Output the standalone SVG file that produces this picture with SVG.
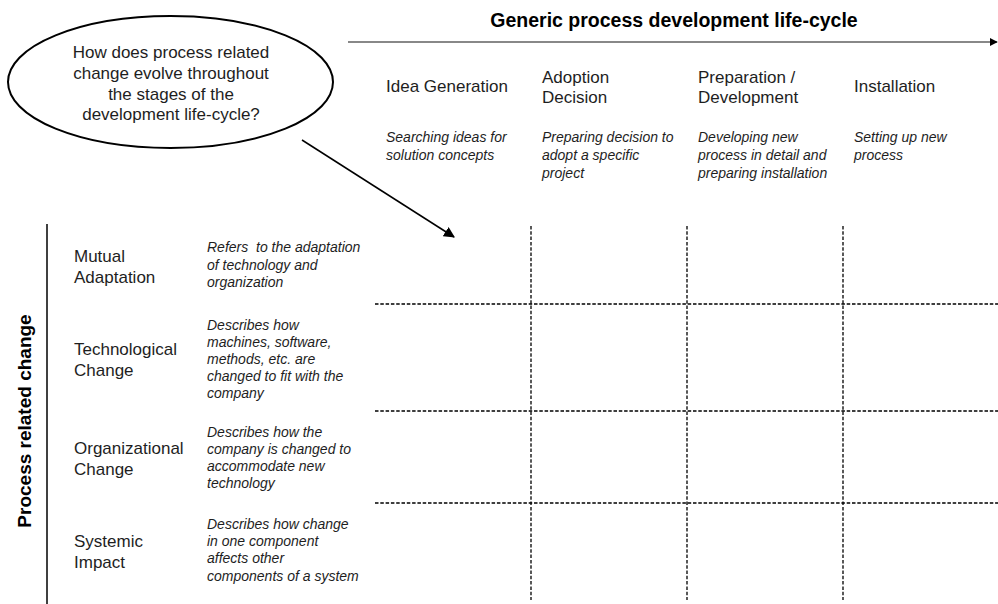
<svg xmlns="http://www.w3.org/2000/svg" width="998" height="604" viewBox="0 0 998 604">
<style>
.t{font-family:"Liberation Sans",Arial,sans-serif;fill:#1e1e1e}
.h{font-size:17px}
.d{font-size:14px;font-style:italic}
.b{font-weight:bold;fill:#000}
.g{stroke:#000;stroke-width:1.3;stroke-dasharray:3.5 1.8;fill:none}
</style>
<defs>
<marker id="ah" viewBox="0 0 10 10" refX="9" refY="5" markerWidth="8" markerHeight="8" markerUnits="userSpaceOnUse" orient="auto"><path d="M0,0 L10,5 L0,10 z" fill="#000"/></marker>
<marker id="ah2" viewBox="0 0 10 10" refX="9" refY="5" markerWidth="11" markerHeight="11" markerUnits="userSpaceOnUse" orient="auto"><path d="M0,0 L10,5 L0,10 z" fill="#000"/></marker>
</defs>

<g id="title">
<text class="t b" x="674" y="27" font-size="19.5" text-anchor="middle">Generic process development life-cycle</text>
</g>

<g id="question">
<ellipse cx="170.5" cy="82" rx="162.5" ry="66" fill="#fff" stroke="#000" stroke-width="2"/>
<text class="t h" text-anchor="middle" x="171" y="58">How does process related</text>
<text class="t h" text-anchor="middle" x="171" y="79">change evolve throughout</text>
<text class="t h" text-anchor="middle" x="171" y="100">the stages of the</text>
<text class="t h" text-anchor="middle" x="171" y="120">development life-cycle?</text>
</g>

<g id="connectors">
<line x1="348" y1="42" x2="997" y2="42" stroke="#888" stroke-width="2" marker-end="url(#ah)"/>
<line x1="302" y1="140" x2="454" y2="237" stroke="#000" stroke-width="1.5" marker-end="url(#ah2)"/>
</g>

<g id="stage-idea">
<text class="t h" x="386" y="92">Idea Generation</text>
<text class="t d" x="386" y="142">Searching ideas for</text>
<text class="t d" x="386" y="160">solution concepts</text>
</g>
<g id="stage-adoption">
<text class="t h" x="542" y="83">Adoption</text>
<text class="t h" x="542" y="103">Decision</text>
<text class="t d" x="542" y="142">Preparing decision to</text>
<text class="t d" x="542" y="160">adopt a specific</text>
<text class="t d" x="542" y="178">project</text>
</g>
<g id="stage-preparation">
<text class="t h" x="698" y="83">Preparation /</text>
<text class="t h" x="698" y="103">Development</text>
<text class="t d" x="698" y="142">Developing new</text>
<text class="t d" x="698" y="160">process in detail and</text>
<text class="t d" x="698" y="178">preparing installation</text>
</g>
<g id="stage-installation">
<text class="t h" x="854" y="92">Installation</text>
<text class="t d" x="854" y="142">Setting up new</text>
<text class="t d" x="854" y="160">process</text>
</g>

<g id="axis-change">
<line x1="47" y1="224" x2="47" y2="604" stroke="#000" stroke-width="1.5"/>
<text class="t b" font-size="19" text-anchor="middle" transform="translate(31,421) rotate(-90)">Process related change</text>
</g>

<g id="row-mutual">
<text class="t h" x="74" y="262">Mutual</text>
<text class="t h" x="74" y="283">Adaptation</text>
<text class="t d" x="207" y="252">Refers&#160; to the adaptation</text>
<text class="t d" x="207" y="270">of technology and</text>
<text class="t d" x="207" y="287">organization</text>
</g>
<g id="row-technological">
<text class="t h" x="74" y="355">Technological</text>
<text class="t h" x="74" y="376">Change</text>
<text class="t d" x="207" y="330">Describes how</text>
<text class="t d" x="207" y="347">machines, software,</text>
<text class="t d" x="207" y="364">methods, etc. are</text>
<text class="t d" x="207" y="381">changed to fit with the</text>
<text class="t d" x="207" y="398">company</text>
</g>
<g id="row-organizational">
<text class="t h" x="74" y="454">Organizational</text>
<text class="t h" x="74" y="475">Change</text>
<text class="t d" x="207" y="437">Describes how the</text>
<text class="t d" x="207" y="454">company is changed to</text>
<text class="t d" x="207" y="471">accommodate new</text>
<text class="t d" x="207" y="488">technology</text>
</g>
<g id="row-systemic">
<text class="t h" x="74" y="547">Systemic</text>
<text class="t h" x="74" y="568">Impact</text>
<text class="t d" x="207" y="529">Describes how change</text>
<text class="t d" x="207" y="546">in one component</text>
<text class="t d" x="207" y="563">affects other</text>
<text class="t d" x="207" y="581">components of a system</text>
</g>

<g id="grid">
<line class="g" x1="531" y1="226" x2="531" y2="600"/>
<line class="g" x1="687" y1="226" x2="687" y2="600"/>
<line class="g" x1="843" y1="226" x2="843" y2="600"/>
<line class="g" x1="375" y1="304" x2="998" y2="304"/>
<line class="g" x1="375" y1="411" x2="998" y2="411"/>
<line class="g" x1="375" y1="503" x2="998" y2="503"/>
</g>
</svg>
